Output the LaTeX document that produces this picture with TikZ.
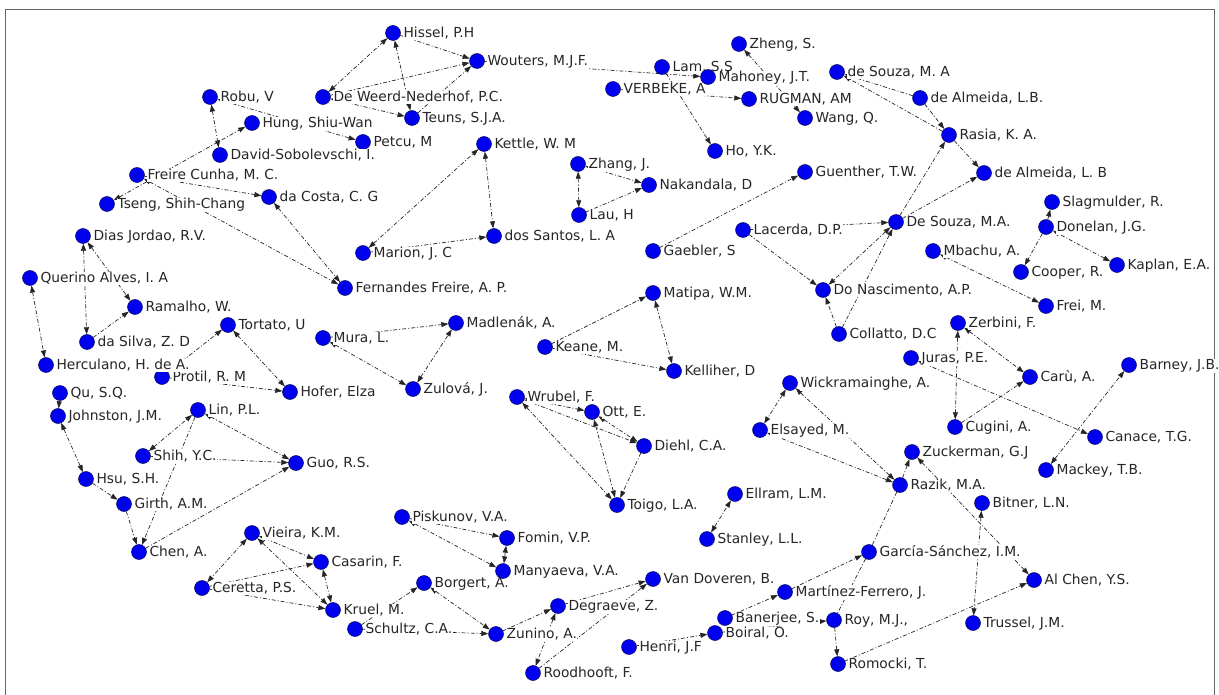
\documentclass[tikz,border=0pt]{standalone}
\usepackage{fontspec}
\newfontfamily\labfont{DejaVu Sans}
\usetikzlibrary{arrows.meta}
\definecolor{nodeblue}{RGB}{0,0,240}
\definecolor{nodeedge}{RGB}{10,10,90}
\tikzset{
  au/.style={circle, minimum size=15pt, inner sep=0pt},
  dotc/.style={circle, minimum size=15pt, inner sep=0pt, fill=nodeblue, draw=nodeedge, line width=0.5pt},
  lab/.style={anchor=base west, xshift=10pt, yshift=-4.5pt, fill=white, inner sep=0.4pt, text=black!85, font={\labfont\fontsize{13.8}{15}\selectfont}},
  ed/.style={draw=black!85, line width=0.7pt, dash pattern=on 4pt off 2pt on 1pt off 2pt},
  e1/.style={ed, -{Triangle[length=7pt,width=5pt]}},
  e2/.style={ed, {Triangle[length=7pt,width=5pt]}-{Triangle[length=7pt,width=5pt]}},
  e0/.style={ed},
}
\begin{document}
\begin{tikzpicture}[x=1pt,y=-1pt]
\useasboundingbox (0,0) rectangle (1219,695);
\fill[white] (0,0) rectangle (1219,695);
\draw[black!60, line width=1pt] (5,10) rectangle (1214,702);
% node positions
\node[au] (hissel) at (393,33) {};
\node[au] (wouters) at (477,61) {};
\node[au] (zheng) at (739,44) {};
\node[au] (lam) at (662,67) {};
\node[au] (mahoney) at (708,77) {};
\node[au] (verbeke) at (613,89) {};
\node[au] (rugman) at (749,99) {};
\node[au] (wang) at (805,118) {};
\node[au] (ho) at (715,151) {};
\node[au] (desouzaa) at (837,72) {};
\node[au] (dealmeidaa) at (920,98) {};
\node[au] (rasia) at (949,135) {};
\node[au] (dealmeidab) at (984,173) {};
\node[au] (guenther) at (805,172) {};
\node[au] (desouzab) at (896,222) {};
\node[au] (lacerda) at (743,230) {};
\node[au] (slag) at (1052,202) {};
\node[au] (donelan) at (1046,227) {};
\node[au] (robu) at (210,97) {};
\node[au] (deweerd) at (323,97) {};
\node[au] (teuns) at (412,118) {};
\node[au] (hung) at (252,123) {};
\node[au] (petcu) at (363,142) {};
\node[au] (david) at (220,155) {};
\node[au] (kettle) at (484,144) {};
\node[au] (zhang) at (578,164) {};
\node[au] (nakandala) at (649,185) {};
\node[au] (lau) at (579,215) {};
\node[au] (freire) at (137,175) {};
\node[au] (dacosta) at (269,197) {};
\node[au] (tseng) at (107,204) {};
\node[au] (dias) at (83,236) {};
\node[au] (marion) at (363,253) {};
\node[au] (dossantos) at (494,236) {};
\node[au] (gaebler) at (653,251) {};
\node[au] (mbachu) at (933,251) {};
\node[au] (cooper) at (1021,272) {};
\node[au] (kaplan) at (1117,265) {};
\node[au] (querino) at (30,278) {};
\node[au] (fernandes) at (345,288) {};
\node[au] (matipa) at (653,293) {};
\node[au] (donasc) at (823,290) {};
\node[au] (frei) at (1046,306) {};
\node[au] (ramalho) at (135,307) {};
\node[au] (tortato) at (228,325) {};
\node[au] (mura) at (323,338) {};
\node[au] (madlenak) at (456,323) {};
\node[au] (zerbini) at (958,323) {};
\node[au] (collatto) at (839,334) {};
\node[au] (dasilva) at (87,342) {};
\node[au] (keane) at (545,347) {};
\node[au] (juras) at (911,358) {};
\node[au] (barney) at (1129,365) {};
\node[au] (herculano) at (46,365) {};
\node[au] (protil) at (162,377) {};
\node[au] (kelliher) at (674,371) {};
\node[au] (caru) at (1030,377) {};
\node[au] (wick) at (790,383) {};
\node[au] (zulova) at (413,389) {};
\node[au] (hofer) at (290,392) {};
\node[au] (qu) at (60,393) {};
\node[au] (wrubel) at (517,397) {};
\node[au] (lin) at (198,410) {};
\node[au] (ott) at (592,412) {};
\node[au] (johnston) at (58,416) {};
\node[au] (cugini) at (955,427) {};
\node[au] (elsayed) at (760,430) {};
\node[au] (canace) at (1095,437) {};
\node[au] (diehl) at (644,446) {};
\node[au] (zuckerman) at (912,452) {};
\node[au] (shih) at (143,456) {};
\node[au] (guo) at (296,463) {};
\node[au] (mackey) at (1046,470) {};
\node[au] (hsu) at (86,479) {};
\node[au] (razik) at (900,485) {};
\node[au] (ellram) at (735,494) {};
\node[au] (girth) at (124,504) {};
\node[au] (bitner) at (982,503) {};
\node[au] (toigo) at (617,505) {};
\node[au] (piskunov) at (402,517) {};
\node[au] (vieira) at (252,533) {};
\node[au] (fomin) at (507,538) {};
\node[au] (stanley) at (707,539) {};
\node[au] (chen) at (139,552) {};
\node[au] (garcia) at (869,552) {};
\node[au] (casarin) at (321,562) {};
\node[au] (manyaeva) at (503,571) {};
\node[au] (vandoveren) at (653,579) {};
\node[au] (alchen) at (1034,580) {};
\node[au] (borgert) at (424,583) {};
\node[au] (ceretta) at (202,588) {};
\node[au] (martinez) at (785,592) {};
\node[au] (degraeve) at (558,606) {};
\node[au] (kruel) at (333,610) {};
\node[au] (banerjee) at (725,618) {};
\node[au] (roy) at (834,620) {};
\node[au] (trussel) at (973,623) {};
\node[au] (schultz) at (355,629) {};
\node[au] (boiral) at (715,633) {};
\node[au] (zunino) at (496,634) {};
\node[au] (henri) at (629,647) {};
\node[au] (romocki) at (838,664) {};
\node[au] (roodhooft) at (533,673) {};
% edges
\draw[e2] (deweerd) -- (hissel);
\draw[e1] (hissel) -- (wouters);
\draw[e2] (hissel) -- (teuns);
\draw[e2] (deweerd) -- (teuns);
\draw[e1] (deweerd) -- (wouters);
\draw[e1] (teuns) -- (wouters);
\draw[e1] (wouters) -- (mahoney);
\draw[e2] (zheng) -- (wang);
\draw[e1] (lam) -- (ho);
\draw[e1] (verbeke) -- (rugman);
\draw[e1] (dealmeidaa) -- (desouzaa);
\draw[e1] (rasia) -- (desouzaa);
\draw[e1] (dealmeidaa) -- (rasia);
\draw[e1] (rasia) -- (dealmeidab);
\draw[e1] (desouzab) -- (rasia);
\draw[e1] (desouzab) -- (dealmeidab);
\draw[e1] (lacerda) -- (desouzab);
\draw[e1] (lacerda) -- (donasc);
\draw[e2] (desouzab) -- (donasc);
\draw[e1] (collatto) -- (desouzab);
\draw[e1] (collatto) -- (donasc);
\draw[e1] (gaebler) -- (guenther);
\draw[e1] (donelan) -- (slag);
\draw[e2] (kaplan) -- (donelan);
\draw[e1] (donelan) -- (cooper);
\draw[e2] (mbachu) -- (frei);
\draw[e2] (zerbini) -- (cugini);
\draw[e2] (zerbini) -- (caru);
\draw[e1] (cugini) -- (caru);
\draw[e2] (juras) -- (canace);
\draw[e2] (mackey) -- (barney);
\draw[e2] (wick) -- (elsayed);
\draw[e2] (wick) -- (razik);
\draw[e2] (elsayed) -- (razik);
\draw[e1] (razik) -- (zuckerman);
\draw[e2] (zuckerman) -- (alchen);
\draw[e0] (razik) -- (garcia);
\draw[e0] (garcia) -- (roy);
\draw[e1] (martinez) -- (garcia);
\draw[e1] (banerjee) -- (martinez);
\draw[e1] (boiral) -- (roy);
\draw[e1] (henri) -- (boiral);
\draw[e1] (roy) -- (romocki);
\draw[e1] (romocki) -- (alchen);
\draw[e2] (bitner) -- (trussel);
\draw[e2] (stanley) -- (ellram);
\draw[e2] (zhang) -- (lau);
\draw[e2] (zhang) -- (nakandala);
\draw[e1] (lau) -- (nakandala);
\draw[e1] (mura) -- (madlenak);
\draw[e2] (zulova) -- (madlenak);
\draw[e2] (mura) -- (zulova);
\draw[e2] (tortato) -- (hofer);
\draw[e1] (protil) -- (hofer);
\draw[e1] (protil) -- (tortato);
\draw[e2] (querino) -- (herculano);
\draw[e2] (dias) -- (dasilva);
\draw[e2] (dias) -- (ramalho);
\draw[e1] (dasilva) -- (ramalho);
\draw[e1] (qu) -- (johnston);
\draw[e2] (johnston) -- (hsu);
\draw[e1] (hsu) -- (girth);
\draw[e1] (girth) -- (chen);
\draw[e1] (lin) -- (chen);
\draw[e1] (chen) -- (guo);
\draw[e1] (shih) -- (guo);
\draw[e2] (lin) -- (guo);
\draw[e2] (shih) -- (lin);
\draw[e2] (vieira) -- (ceretta);
\draw[e2] (vieira) -- (casarin);
\draw[e2] (vieira) -- (kruel);
\draw[e1] (ceretta) -- (casarin);
\draw[e1] (ceretta) -- (kruel);
\draw[e2] (casarin) -- (kruel);
\draw[e1] (schultz) -- (borgert);
\draw[e1] (schultz) -- (zunino);
\draw[e2] (borgert) -- (zunino);
\draw[e1] (piskunov) -- (fomin);
\draw[e2] (piskunov) -- (manyaeva);
\draw[e2] (manyaeva) -- (fomin);
\draw[e1] (degraeve) -- (vandoveren);
\draw[e1] (roodhooft) -- (vandoveren);
\draw[e2] (degraeve) -- (roodhooft);
\draw[e1] (zunino) -- (degraeve);
\draw[e2] (wrubel) -- (ott);
\draw[e1] (wrubel) -- (diehl);
\draw[e2] (ott) -- (diehl);
\draw[e2] (wrubel) -- (toigo);
\draw[e2] (ott) -- (toigo);
\draw[e1] (diehl) -- (toigo);
\draw[e1] (keane) -- (matipa);
\draw[e1] (keane) -- (kelliher);
\draw[e2] (matipa) -- (kelliher);
\draw[e2] (robu) -- (david);
\draw[e2] (robu) -- (petcu);
\draw[e2] (tseng) -- (hung);
\draw[e2] (freire) -- (fernandes);
\draw[e1] (freire) -- (dacosta);
\draw[e2] (dacosta) -- (fernandes);
\draw[e2] (marion) -- (kettle);
\draw[e1] (marion) -- (dossantos);
\draw[e2] (kettle) -- (dossantos);
% labels (first pass)
\node[lab] at (hissel) {Hissel, P.H};
\node[lab] at (wouters) {Wouters, M.J.F.};
\node[lab] at (zheng) {Zheng, S.};
\node[lab] at (lam) {Lam, S.S};
\node[lab] at (mahoney) {Mahoney, J.T.};
\node[lab] at (verbeke) {VERBEKE, A};
\node[lab] at (rugman) {RUGMAN, AM};
\node[lab] at (wang) {Wang, Q.};
\node[lab] at (ho) {Ho, Y.K.};
\node[lab] at (desouzaa) {de Souza, M. A};
\node[lab] at (dealmeidaa) {de Almeida, L.B.};
\node[lab] at (rasia) {Rasia, K. A.};
\node[lab] at (dealmeidab) {de Almeida, L. B};
\node[lab] at (guenther) {Guenther, T.W.};
\node[lab] at (desouzab) {De Souza, M.A.};
\node[lab] at (lacerda) {Lacerda, D.P.};
\node[lab] at (slag) {Slagmulder, R.};
\node[lab] at (donelan) {Donelan, J.G.};
\node[lab] at (robu) {Robu, V};
\node[lab] at (deweerd) {De Weerd-Nederhof, P.C.};
\node[lab] at (teuns) {Teuns, S.J.A.};
\node[lab] at (hung) {Hung, Shiu-Wan};
\node[lab] at (petcu) {Petcu, M};
\node[lab] at (kettle) {Kettle, W. M};
\node[lab] at (zhang) {Zhang, J.};
\node[lab] at (nakandala) {Nakandala, D};
\node[lab] at (lau) {Lau, H};
\node[lab] at (freire) {Freire Cunha, M. C.};
\node[lab] at (dacosta) {da Costa, C. G};
\node[lab] at (tseng) {Tseng, Shih-Chang};
\node[lab] at (dias) {Dias Jordao, R.V.};
\node[lab] at (marion) {Marion, J. C};
\node[lab] at (dossantos) {dos Santos, L. A};
\node[lab] at (gaebler) {Gaebler, S};
\node[lab] at (mbachu) {Mbachu, A.};
\node[lab] at (cooper) {Cooper, R.};
\node[lab] at (kaplan) {Kaplan, E.A.};
\node[lab] at (querino) {Querino Alves, I. A};
\node[lab] at (fernandes) {Fernandes Freire, A. P.};
\node[lab] at (matipa) {Matipa, W.M.};
\node[lab] at (donasc) {Do Nascimento, A.P.};
\node[lab] at (frei) {Frei, M.};
\node[lab] at (ramalho) {Ramalho, W.};
\node[lab] at (tortato) {Tortato, U};
\node[lab] at (mura) {Mura, L.};
\node[lab] at (madlenak) {Madlenák, A.};
\node[lab] at (zerbini) {Zerbini, F.};
\node[lab] at (collatto) {Collatto, D.C};
\node[lab] at (dasilva) {da Silva, Z. D};
\node[lab] at (keane) {Keane, M.};
\node[lab] at (juras) {Juras, P.E.};
\node[lab] at (barney) {Barney, J.B.};
\node[lab] at (protil) {Protil, R. M};
\node[lab] at (kelliher) {Kelliher, D};
\node[lab] at (caru) {Carù, A.};
\node[lab] at (wick) {Wickramainghe, A.};
\node[lab] at (zulova) {Zulová, J.};
\node[lab] at (hofer) {Hofer, Elza};
\node[lab] at (qu) {Qu, S.Q.};
\node[lab] at (wrubel) {Wrubel, F.};
\node[lab] at (lin) {Lin, P.L.};
\node[lab] at (ott) {Ott, E.};
\node[lab] at (johnston) {Johnston, J.M.};
\node[lab] at (cugini) {Cugini, A.};
\node[lab] at (elsayed) {Elsayed, M.};
\node[lab] at (canace) {Canace, T.G.};
\node[lab] at (diehl) {Diehl, C.A.};
\node[lab] at (zuckerman) {Zuckerman, G.J};
\node[lab] at (shih) {Shih, Y.C.};
\node[lab] at (guo) {Guo, R.S.};
\node[lab] at (mackey) {Mackey, T.B.};
\node[lab] at (hsu) {Hsu, S.H.};
\node[lab] at (razik) {Razik, M.A.};
\node[lab] at (ellram) {Ellram, L.M.};
\node[lab] at (girth) {Girth, A.M.};
\node[lab] at (bitner) {Bitner, L.N.};
\node[lab] at (toigo) {Toigo, L.A.};
\node[lab] at (piskunov) {Piskunov, V.A.};
\node[lab] at (vieira) {Vieira, K.M.};
\node[lab] at (fomin) {Fomin, V.P.};
\node[lab] at (stanley) {Stanley, L.L.};
\node[lab] at (chen) {Chen, A.};
\node[lab] at (garcia) {García-Sánchez, I.M.};
\node[lab] at (casarin) {Casarin, F.};
\node[lab] at (manyaeva) {Manyaeva, V.A.};
\node[lab] at (vandoveren) {Van Doveren, B.};
\node[lab] at (alchen) {Al Chen, Y.S.};
\node[lab] at (borgert) {Borgert, A.};
\node[lab] at (ceretta) {Ceretta, P.S.};
\node[lab] at (martinez) {Martínez-Ferrero, J.};
\node[lab] at (degraeve) {Degraeve, Z.};
\node[lab] at (kruel) {Kruel, M.};
\node[lab] at (banerjee) {Banerjee, S.};
\node[lab] at (roy) {Roy, M.J.,};
\node[lab] at (trussel) {Trussel, J.M.};
\node[lab] at (schultz) {Schultz, C.A.};
\node[lab] at (zunino) {Zunino, A.};
\node[lab] at (henri) {Henri, J.F};
\node[lab] at (romocki) {Romocki, T.};
\node[lab] at (roodhooft) {Roodhooft, F.};
% circles
\foreach \n in {hissel,wouters,zheng,lam,mahoney,verbeke,rugman,wang,ho,desouzaa,dealmeidaa,rasia,dealmeidab,guenther,desouzab,lacerda,slag,donelan,robu,deweerd,teuns,hung,petcu,david,kettle,zhang,nakandala,lau,freire,dacosta,tseng,dias,marion,dossantos,gaebler,mbachu,cooper,kaplan,querino,fernandes,matipa,donasc,frei,ramalho,tortato,mura,madlenak,zerbini,collatto,dasilva,keane,juras,barney,herculano,protil,kelliher,caru,wick,zulova,hofer,qu,wrubel,lin,ott,johnston,cugini,elsayed,canace,diehl,zuckerman,shih,guo,mackey,hsu,razik,ellram,girth,bitner,toigo,piskunov,vieira,fomin,stanley,chen,garcia,casarin,manyaeva,vandoveren,alchen,borgert,ceretta,martinez,degraeve,kruel,banerjee,roy,trussel,schultz,boiral,zunino,henri,romocki,roodhooft}
  \node[dotc] at (\n) {};
% labels (second pass, drawn over neighbouring circles)
\node[lab] at (david) {David-Sobolevschi, I.};
\node[lab] at (herculano) {Herculano, H. de A.};
\node[lab] at (boiral) {Boiral, O.};
\end{tikzpicture}
\end{document}
